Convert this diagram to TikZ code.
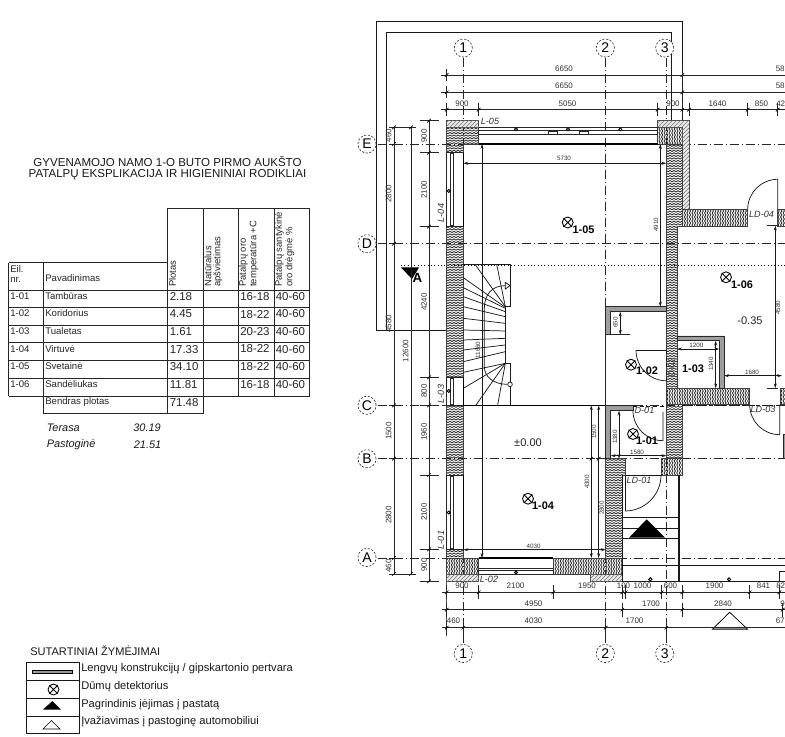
\documentclass[tikz,border=0pt]{standalone}
\usepackage{fontspec}
\setmainfont{Liberation Sans}
\usetikzlibrary{arrows.meta,patterns,calc}
\pgfdeclarepatternformonly{zigv}{\pgfqpoint{-0.5pt}{-0.5pt}}{\pgfqpoint{3.5pt}{2.4pt}}{\pgfqpoint{3pt}{1.9pt}}{
  \pgfsetlinewidth{0.6pt}
  \pgfpathmoveto{\pgfqpoint{0pt}{0.2pt}}\pgfpathlineto{\pgfqpoint{1.5pt}{1.2pt}}\pgfpathlineto{\pgfqpoint{3pt}{0.2pt}}\pgfusepath{stroke}}
\pgfdeclarepatternformonly{zigh}{\pgfqpoint{-0.5pt}{-0.5pt}}{\pgfqpoint{2.4pt}{3.5pt}}{\pgfqpoint{1.9pt}{3pt}}{
  \pgfsetlinewidth{0.6pt}
  \pgfpathmoveto{\pgfqpoint{0.2pt}{0pt}}\pgfpathlineto{\pgfqpoint{1.2pt}{1.5pt}}\pgfpathlineto{\pgfqpoint{0.2pt}{3pt}}\pgfusepath{stroke}}
\tikzset{
  ln/.style={line width=0.6pt,draw=black!85},
  thick line/.style={line width=1.1pt,draw=black},
  wallv/.style={pattern=zigv,pattern color=black!85,draw=black!75,line width=0.4pt},
  wallh/.style={pattern=zigh,pattern color=black!85,draw=black!75,line width=0.4pt},
  insul/.style={fill=black!8,postaction={pattern=north east lines,pattern color=black!55},draw=black!70,line width=0.35pt},
  partition/.style={fill=black!38,draw=black!85,line width=0.35pt},
  gridline/.style={line width=0.55pt,draw=black!85,dash pattern=on 7pt off 2pt on 1pt off 2pt},
  gridmark/.style={circle,draw=black!85,dash pattern=on 1.6pt off 1.2pt,line width=0.45pt,minimum size=13.6pt,inner sep=0pt,font=\fontsize{10.5}{11}\selectfont},
  dimtxt/.style={font=\fontsize{6}{6.5}\selectfont,text=black!80,inner sep=0pt},
  dimsm/.style={font=\fontsize{4.7}{5}\selectfont,text=black!80,inner sep=0pt},
  lbl/.style={font=\fontsize{6.8}{7}\itshape\selectfont,text=black!80,inner sep=0pt},
  room/.style={font=\fontsize{8.2}{9}\bfseries\selectfont,inner sep=0pt},
  lev/.style={font=\fontsize{8.3}{9}\selectfont,text=black!85,inner sep=0pt},
  tsm/.style={font=\fontsize{7.2}{7.5}\selectfont,anchor=west,text=black!85,inner sep=0pt},
  tnum/.style={font=\fontsize{8.6}{9}\selectfont,anchor=west,text=black!85,inner sep=0pt},
  thd/.style={font=\fontsize{7.1}{7.5}\selectfont,anchor=west,rotate=90,text=black!85,inner sep=0pt},
  tit/.style={font=\fontsize{8.65}{9}\selectfont,text=black!90,inner sep=0pt},
  leg/.style={font=\fontsize{8.35}{9}\selectfont,anchor=west,text=black!90,inner sep=0pt},
  ital/.style={font=\fontsize{8.2}{9}\itshape\selectfont,text=black!90,inner sep=0pt},
  dimar/.style={line width=0.5pt,draw=black!90,{Stealth[length=3.6pt,width=2.2pt]}-{Stealth[length=3.6pt,width=2.2pt]}},
}
\newcommand{\tkh}[3]{% x, y, half height
  \draw[line width=0.55pt,black!85] (#1,#2-#3) -- (#1,#2+#3);
  \draw[line width=0.5pt,black] (#1-1.8,#2+1.8) -- (#1+1.8,#2-1.8);}
\newcommand{\tkv}[3]{% x, y, half width
  \draw[line width=0.55pt,black!85] (#1-#3,#2) -- (#1+#3,#2);
  \draw[line width=0.5pt,black] (#1-1.8,#2+1.8) -- (#1+1.8,#2-1.8);}
\newcommand{\smoke}[3]{% x y name
  \node[circle,draw=black,line width=0.65pt,minimum size=8.2pt,inner sep=0pt] (#3) at (#1,#2) {};
  \draw[line width=0.65pt] (#3.45) -- (#3.225) (#3.135) -- (#3.315);}
\begin{document}
\begin{tikzpicture}[x=0.75pt,y=-0.75pt]
\useasboundingbox (0,0) rectangle (785,737);
\fill[white] (0,0) rectangle (785,737);
\clip (0,0) rectangle (785,737);

% ---------- left: title and table
\node[tit] (t1) at (167.5,162) {GYVENAMOJO NAMO 1-O BUTO PIRMO AUKŠTO};
\node[tit] (t2) at (167.5,175) {PATALPŲ EKSPLIKACIJA IR HIGIENINIAI RODIKLIAI};
\begin{scope}[line width=0.65pt,black!85]
\draw (167.7,208.3) rectangle (309.7,290);
\foreach \x in {203.3,238.7,274.3} {\draw (\x,208.3) -- (\x,396);}
\draw (8.7,262.7) -- (167.7,262.7);
\draw (8.7,262.7) -- (8.7,396);
\draw (43.7,262.7) -- (43.7,413.7);
\draw (167.7,262.7) -- (167.7,413.7);
\draw (309.7,290) -- (309.7,396);
\foreach \y in {290,307.3,325,342.7,360.3,378.3,396} {\draw (8.7,\y) -- (309.7,\y);}
\draw (43.7,413.7) -- (203.3,413.7) -- (203.3,396);
\end{scope}
\node[thd] (h1) at (172.5,287) {Plotas};
\node[thd] (h2a) at (208,287) {Natūralus};
\node[thd] (h2b) at (218,287) {apšvietimas};
\node[thd] (h3a) at (243.5,287) {Patalpų oro};
\node[thd] (h3b) at (254,287) {temperatūra +C};
\node[thd] (h4a) at (279.5,287) {Patalpų santykinė};
\node[thd] (h4b) at (290,287) {oro drėgmė \%};
\node[tsm] (e1) at (10,269.5) {Eil.};
\node[tsm] (e2) at (10,279.5) {nr.};
\node[tsm] (e3) at (45,278) {Pavadinimas};
\foreach \n/\y/\a/\b/\c/\t in {
 1-01/296/Tambūras/2.18/16-18/297,
 1-02/313/Koridorius/4.45/18-22/314.5,
 1-03/331/Tualetas/1.61/20-23/331.5,
 1-04/349/Virtuvė/17.33/18-22/349,
 1-05/366/Svetainė/34.10/18-22/367,
 1-06/384/Sandėliukas/11.81/16-18/385}{
  \node[tsm] (r\n) at (10,\y) {\n};
  \node[tsm] (p\n) at (45,\y) {\a};
  \node[tnum] (s\n) at (169.5,\y+0.5) {\b};
  \node[tnum] (g\n) at (240,\t) {\c};
  \node[tnum] (m\n) at (275.5,\y+0.5) {40-60};
}
\node[tsm] (bp) at (45,402) {Bendras plotas};
\node[tnum] (bps) at (169.5,402.5) {71.48};
\node[ital,anchor=west] (ter) at (46.5,428) {Terasa};
\node[ital,anchor=east] (terv) at (161,428) {30.19};
\node[ital,anchor=west] (pas) at (46.5,445) {Pastoginė};
\node[ital,anchor=east] (pasv) at (161.5,445) {21.51};

% ---------- legend
\node[leg,font=\fontsize{8.3}{9}\selectfont] (lt) at (30,650.5) {SUTARTINIAI ŽYMĖJIMAI};
\begin{scope}[line width=0.65pt,black!90]
\draw (26,662.5) rectangle (79.3,733.7);
\foreach \y in {680.7,698.3,716} {\draw (26,\y) -- (79.3,\y);}
\end{scope}
\draw[line width=0.5pt,fill=black!40] (32,670) rectangle (72.5,673.5);
\smoke{53.5}{689.5}{ls}
\fill (43,709.5) -- (61,709.5) -- (52.5,701) -- cycle;
\draw[line width=0.5pt] (43,729) -- (60,729) -- (51.5,720.5) -- cycle;
\node[leg] (l1) at (81,668.5) {Lengvų konstrukcijų / gipskartonio pertvara};
\node[leg] (l2) at (81,686.5) {Dūmų detektorius};
\node[leg] (l3) at (81,704.5) {Pagrindinis įėjimas į pastatą};
\node[leg] (l4) at (81,722) {Įvažiavimas į pastoginę automobiliui};

% ---------- roof outline
\begin{scope}[line width=0.7pt,black!90]
\draw (446.7,330.3) -- (376,330.3) -- (376,21.7) -- (682.3,21.7) -- (682.3,120.7);
\draw (386.7,330.3) -- (386.7,32.7) -- (671.7,32.7) -- (671.7,127);
\end{scope}

% ---------- grid lines
\foreach \x in {463.3,605.7,666.3} {\draw[gridline] (\x,58) -- (\x,643);}
\foreach \y in {144,243.7,405.3,458.7,558} {\draw[gridline] (378,\y) -- (785,\y);}
\draw[line width=0.5pt,black,dotted] (401,265.3) -- (785,265.3);

% ---------- walls
\path[wallv] (446.7,127.5) -- (478.7,127.5) -- (478.7,144) -- (463.3,144) -- (463.3,152.7) -- (446.7,152.7) -- cycle;
\path[insul] (446.7,120.7) rectangle (478.7,127.5);
\path[wallv] (446.7,226.7) rectangle (463.3,377.3);
\path[wallv] (446.7,405.3) rectangle (463.3,475);
\path[wallv] (446.7,549.3) rectangle (463.3,558);
\path[wallh] (446.7,558) rectangle (478.7,574.3);
\path[insul] (446.7,574.3) rectangle (478.7,581.3);
\path[wallh] (553.3,558) rectangle (622.3,574.3);
\path[insul] (590.3,574.3) rectangle (622.3,581.3);
\path[wallv] (605.7,458.7) -- (625.7,458.7) -- (625.7,475) -- (622.3,475) -- (622.3,558) -- (605.7,558) -- cycle;
\path[wallh] (661.7,458.7) rectangle (682.3,475);
\path[wallh] (657.7,127.5) rectangle (682.3,144);
\path[insul] (657.7,120.7) -- (689,120.7) -- (689,209.3) -- (682.3,209.3) -- (682.3,127.5) -- (657.7,127.5) -- cycle;
\path[wallv] (666.3,144) -- (682.3,144) -- (682.3,226.7) -- (677,226.7) -- (677,388.3) -- (666.3,388.3) -- cycle;
\path[wallh] (682.3,209.3) rectangle (747.7,226.7);
\path[wallh] (777.7,209.3) rectangle (790,226.7);
\path[wallh] (666.3,388.3) rectangle (749.7,404.7);
\path[wallh] (780,388.3) rectangle (790,404.7);
\path[wallv] (666.3,404.7) -- (682.3,404.7) -- (682.3,458.7) -- (666.3,458.7) -- cycle;

% ---------- windows
\foreach \a/\b/\c in {152.7/226.7/191,377.3/405.3/391,475/549.3/512.5}{
  \draw[line width=0.45pt,black!85] (446.7,\a) rectangle (463.3,\b);
  \draw[line width=0.45pt,black!85] (450,\a+1) rectangle (453.3,\b-1);
  \draw[line width=0.6pt,fill=white] (448.7,\c) circle (1.5);
}
\begin{scope}[line width=0.45pt,black!85]
\draw (478.7,127.5) -- (657.7,127.5);
\draw (478.7,130.7) rectangle (657.7,134.3);
\foreach \x in {548.3,579} {\draw (\x,131) rectangle (\x+9,134.3);}
\draw (478.7,568) -- (553.3,568);
\draw (478.7,570.7) rectangle (553.3,574.3);
\end{scope}
\foreach \x in {516,568,620.3} {\draw[line width=0.6pt,fill=white] (\x,129.3) circle (1.5);}
\draw[line width=0.6pt,fill=black!40] (516,572.5) circle (1.5);
\draw[thick line] (478.7,144) -- (657.7,144);
\draw[thick line] (478.7,558) -- (553.3,558);
\draw[line width=0.7pt] (463.3,152.7) -- (463.3,226.7);
\draw[line width=0.7pt] (463.3,377.3) -- (463.3,405.3);
\draw[line width=0.7pt] (463.3,475) -- (463.3,549.3);
\draw[line width=0.8pt] (463.3,405.3) -- (605.7,405.3);

% ---------- partitions
\draw[ln] (605.7,306.7) -- (605.7,405.3);
\path[partition] (605.7,306.7) -- (666.3,306.7) -- (666.3,311.7) -- (610.7,311.7) -- (610.7,334.7) -- (605.7,334.7) -- cycle;
\draw[ln] (605.7,334.7) -- (630,334.7);
\path[partition] (677,336) -- (724,336) -- (724,388.3) -- (719.3,388.3) -- (719.3,340.7) -- (677,340.7) -- cycle;
\path[partition] (605.7,405.7) -- (633,405.7) -- (633,410.7) -- (610.7,410.7) -- (610.7,458.7) -- (605.7,458.7) -- cycle;
\path[partition] (783,434) rectangle (790,458.7);

% ---------- doors (y axis runs down: angle 90 is at the bottom of a circle)
\begin{scope}[line width=0.55pt,black!90]
\draw (633,410.7) arc[start angle=180,end angle=90,radius=30] -- (663,412);
\draw[densely dashed] (633,406) -- (666,406);
\draw (636,350.3) -- (666,350.3);
\draw (636,350.3) arc[start angle=180,end angle=90,radius=30.5];
\draw[densely dashed] (666.3,350) -- (666.3,381);
\draw (749.7,404.7) arc[start angle=180,end angle=90,radius=30] -- (779.7,404.7);
\draw[densely dashed] (682.3,405) -- (780,405);
\draw (747.7,209.3) arc[start angle=180,end angle=270,radius=30] -- (777.7,209.3);
\draw (625,475) -- (661.7,475);
\draw (625,475) -- (625,511);
\draw (625,511) arc[start angle=90,end angle=0,radius=36];
\end{scope}

% ---------- entrance
\begin{scope}[line width=0.6pt,black!90]
\draw (622.3,475) -- (622.3,581.3);
\foreach \y in {517.7,528.3,538.7} {\draw (622.3,\y) -- (679,\y);}
\draw (622.3,565.3) -- (785,565.3);
\draw[line width=0.9pt] (622.3,581.3) -- (785,581.3);
\draw[line width=0.8pt] (679,475) -- (679,581.3);
\draw (779,581.3) -- (779,571) -- (790,571);
\end{scope}
\fill[black] (629,537.7) -- (665,537.7) -- (646.7,519.3) -- cycle;
\foreach \x in {650.3,729} {\draw[line width=0.7pt,fill=white] (\x,579.3) circle (1.6);}
\draw[line width=0.55pt,fill=white] (712.3,629.3) -- (747.7,629.3) -- (729.7,612.3) -- cycle;
\fill[black!45] (714,627.6) rectangle (746,629.3);

% ---------- stairs (coordinates of 3x crop)
\begin{scope}[shift={(395,255)},x=0.25pt,y=-0.25pt,line width=0.55pt,black!90]
\draw (205,28) -- (345,28) -- (345,155) -- (331,155) -- (331,325) -- (345,325) -- (345,450);
\foreach \a/\b/\c/\d in {240/28/331/155,305/28/331/155,205/68/331/157,205/98/331/160,205/125/331/170,205/155/331/185,205/190/331/205,205/225/331/228,205/255/331/250,205/285/331/270,205/320/331/290,205/352/331/325,205/400/331/325,243/450/331/325,308/450/331/325}
  {\draw (\a,\b) -- (\c,\d);}
\draw (330,92) .. controls (290,92) and (268,120) .. (268,160) -- (268,335) .. controls (268,365) and (295,388) .. (337,388);
\draw[fill=white] (331,82) -- (345,92) -- (331,102) -- cycle;
\draw[fill=white] (345,388) circle (7);
\end{scope}

% ---------- section mark A
\fill[black] (401,267.5) -- (419,267.5) -- (412,279) -- cycle;
\node[font=\fontsize{10}{10}\bfseries\selectfont,inner sep=0pt] (secA) at (417.5,277.5) {A};

% ---------- grid marks
\foreach \n/\t/\x in {a1/1/463.3,a2/2/605.3,a3/3/664.7}{
  \node[gridmark,fill=white] (top\n) at (\x,48) {\t};
  \node[gridmark,fill=white] (bot\n) at (\x,653.5) {\t};
}
\foreach \n/\y in {E/144,D/243.7,C/405.3,B/458.7,A/557.5}
  {\node[gridmark,fill=white] (m\n) at (367,\y) {\n};}

% ---------- top dimensions
\foreach \y in {75,92.3,109.7} {\draw[ln] (441,\y) -- (785,\y);}
\foreach \y in {75,92.3} {\foreach \x in {446.7,682.3} {\tkh{\x}{\y}{6}}}
\foreach \x in {446.7,478.7,657.7,682.3,689,747.7,777.7} {\tkh{\x}{109.7}{6.5}}
\node[dimtxt] at (564,69) {6650};
\node[dimtxt] at (564,86) {6650};
\node[dimtxt,anchor=west] at (775.5,69) {58};
\node[dimtxt,anchor=west] at (775.5,86) {58};
\node[dimtxt] at (462,104) {900};
\node[dimtxt] at (567.5,104) {5050};
\node[dimtxt] at (673,104) {900};
\node[dimtxt] at (717.5,104) {1640};
\node[dimtxt] at (761.5,104) {850};
\node[dimtxt,anchor=west] at (776,104) {42};

% ---------- bottom dimensions
\foreach \y in {592.3,609.7,627.7} {\draw[ln] (442,\y) -- (785,\y);}
\draw[line width=0.4pt,black!70] (446.7,581.3) -- (446.7,636);
\foreach \x in {446.7,478.7,553.3,622.3,625.7,661.7,682.3,749.7,779.3} {\tkh{\x}{592.3}{7}}
\foreach \x in {446.7,622.3,682.3,782.7} {\tkh{\x}{609.7}{7}}
\foreach \x in {446.7,463.3,605.7,666.3} {\tkh{\x}{627.7}{7}}
\node[dimtxt] at (462,586) {900};
\node[dimtxt] at (515.5,586) {2100};
\node[dimtxt] at (587,586) {1950};
\node[dimtxt] at (623.5,586) {100};
\node[dimtxt] at (642.5,586) {1000};
\node[dimtxt] at (670.5,586) {600};
\node[dimtxt] at (714.5,586) {1900};
\node[dimtxt] at (763.5,586) {841};
\node[dimtxt,anchor=west] at (776,586) {82};
\node[dimtxt] at (533.5,603.5) {4950};
\node[dimtxt] at (651,603.5) {1700};
\node[dimtxt] at (723,603.5) {2840};
\node[dimtxt,anchor=west] at (780,603.5) {9};
\node[dimtxt] at (453.5,621) {460};
\node[dimtxt] at (533.5,621) {4030};
\node[dimtxt] at (634.5,621) {1700};
\node[dimtxt,anchor=west] at (775.5,621) {67};

% ---------- left dimensions
\draw[ln] (394,127.3) -- (394,574);
\draw[ln] (411,127.3) -- (411,574);
\draw[ln] (394,127.3) -- (411,127.3);
\draw[ln] (394,574) -- (411,574);
\draw[ln] (429,120.7) -- (429,581.3);
\foreach \y in {127.3,144,243.7,405.3,458.7,558,574} {\tkv{394}{\y}{5}}
\foreach \y in {127.3,574} {\tkv{411}{\y}{5}}
\foreach \y in {120.7,152.7,226.7,377.3,405.3,475,549.3,581.3} {\tkv{429}{\y}{9.5}}
\begin{scope}[every node/.append style={rotate=90}]
\node[dimtxt] at (388.5,135.5) {460};
\node[dimtxt] at (388.5,194) {2800};
\node[dimtxt] at (388.5,324) {4580};
\node[dimtxt] at (388.5,431) {1500};
\node[dimtxt] at (388.5,515) {2800};
\node[dimtxt] at (388.5,566) {460};
\node[dimtxt] at (405.5,351) {12600};
\node[dimtxt] at (424,136) {900};
\node[dimtxt] at (424,190) {2100};
\node[dimtxt] at (424,302) {4240};
\node[dimtxt] at (424,391) {800};
\node[dimtxt] at (424,432) {1960};
\node[dimtxt] at (424,512) {2100};
\node[dimtxt] at (424,565) {900};
\node[dimsm] at (478,350) {11660};
\node[dimsm] at (656,225) {4910};
\node[dimsm] at (594,432) {1500};
\node[dimsm] at (587,482) {4300};
\node[dimsm] at (601.7,508) {2800};
\node[dimsm] at (615.5,322.7) {650};
\node[dimsm] at (615,437) {1380};
\node[dimsm] at (711,364) {1340};
\node[dimsm] at (778,308) {4580};
\end{scope}

% ---------- interior dimensions
\draw[dimar] (482,144) -- (482,558);
\draw[dimar] (660.3,144) -- (660.3,306.7);
\draw[dimar] (463.3,163.3) -- (666.3,163.3);
\node[dimsm] at (564,158.5) {5730};
\draw[dimar] (591.3,405.3) -- (591.3,558);
\draw[dimar] (598.7,405.3) -- (598.7,558);
\draw[dimar] (463.3,549.7) -- (605.7,549.7);
\node[dimsm] at (533.7,546) {4030};
\tkv{591.3}{458.7}{3}
\tkv{598.7}{458.7}{3}
\draw[dimar] (620.3,311.7) -- (620.3,334.7);
\draw[dimar] (619,410.7) -- (619,458.7);
\draw[dimar] (610.7,455.7) -- (666.3,455.7);
\node[dimsm] at (637,452.5) {1580};
\draw[dimar] (677,349) -- (719.3,349);
\node[dimsm] at (696.3,345) {1200};
\draw[dimar] (715.7,340.7) -- (715.7,388.3);
\draw[dimar] (724,375.7) -- (782,375.7);
\node[dimsm] at (752,372) {1680};
\draw[dimar] (775.3,225.7) -- (775.3,388.3);
\draw[ln] (766.7,225.7) -- (778,225.7);
\draw[ln] (766.7,388.3) -- (778,388.3);

% ---------- labels
\node[lbl] at (490,121) {L-05};
\node[lbl,rotate=90] at (441,213) {L-04};
\node[lbl,rotate=90] at (441,394) {L-03};
\node[lbl,rotate=90] at (441,540) {L-01};
\node[lbl] at (489,579) {L-02};
\node[lbl] at (644.5,410) {D-01};
\node[lbl,rotate=90] at (671.5,368) {D-02};
\node[lbl] at (763,409) {LD-03};
\node[lbl] at (639,480) {LD-01};
\node[lbl] at (761.5,214) {LD-04};

\smoke{567.7}{222.5}{d5}
\node[room] at (583.5,230) {1-05};
\smoke{726}{277.3}{d6}
\node[room] at (742,285) {1-06};
\smoke{631}{364.7}{d2}
\node[room] at (647,371) {1-02};
\node[room] at (693,369) {1-03};
\smoke{633}{434}{d1}
\node[room] at (647,441) {1-01};
\smoke{528}{498.7}{d4}
\node[room] at (543,506) {1-04};
\node[lev] at (750,321) {-0.35};
\node[lev] at (528,443) {±0.00};
\end{tikzpicture}
\end{document}
